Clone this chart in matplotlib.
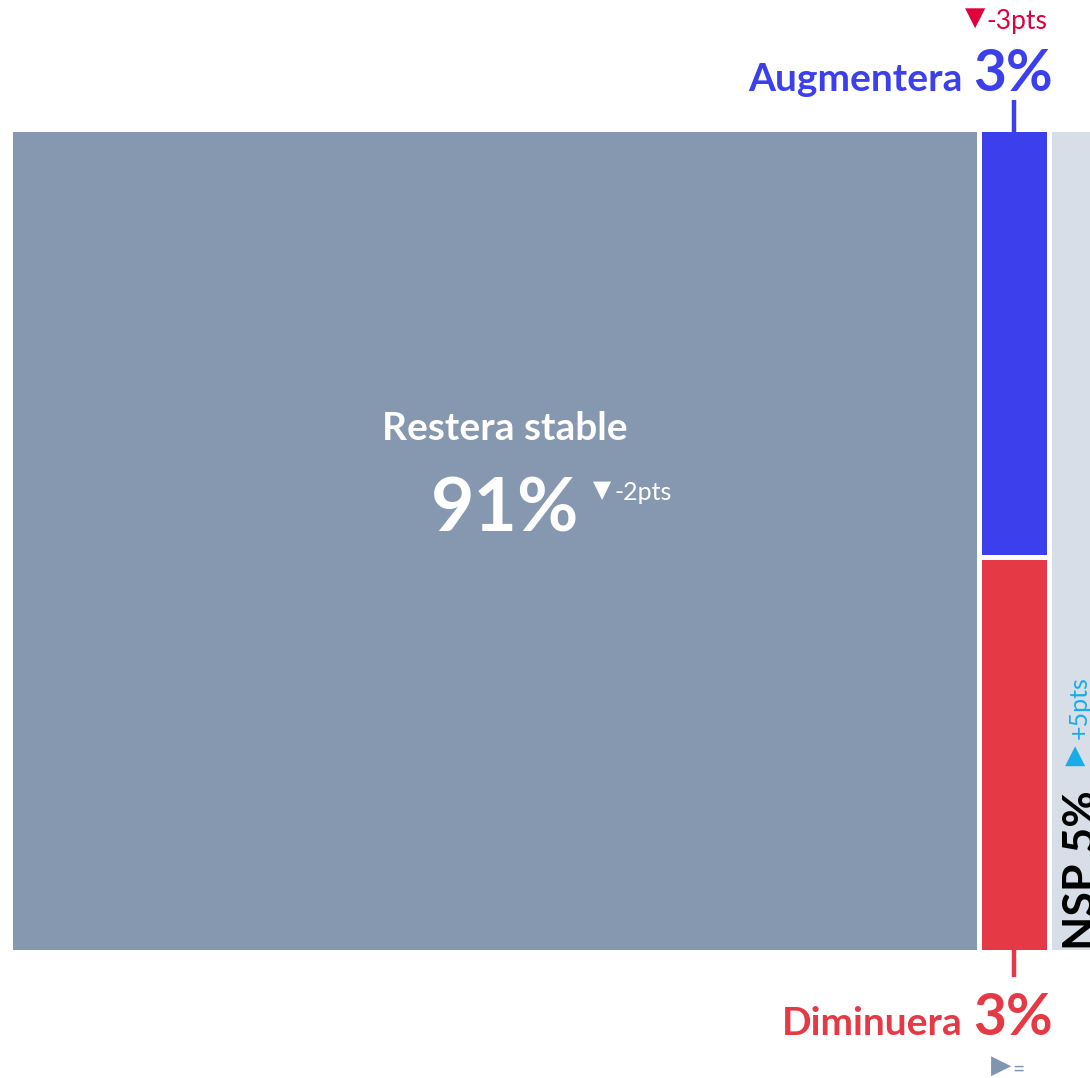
import matplotlib.pyplot as plt
from matplotlib.patches import Rectangle

# data
categories = ["Restera stable", "Augmentera", "Diminuera", "NSP"]
shares = [91, 3.2, 2.95, 5]          # sizes
labels = ["91%", "3%", "3%", "5%"]
deltas = ["-2pts", "-3pts", "=", "+5pts"]
arrows = ["\u25BC", "\u25BC", "\u25B6", "\u25B2"]

colors = ["#8598b0", "#3c3fec", "#e63946", "#d7dee7"]
delta_colors = ["white", "#e0003c", "#8096b0", "#1aace8"]

FONT = ["Lato", "DejaVu Sans"]
SYM = ["DejaVu Sans"]

fig = plt.figure(figsize=(10.9, 10.78), dpi=100)
ax = fig.add_axes([0, 0, 1, 1])
ax.set_xlim(0, 1090)
ax.set_ylim(1078, 0)
ax.axis("off")

# treemap layout: gray | (blue over red) | nsp
left, top, bottom, gap = 13, 132, 950, 5
total = sum(shares)
unit = 1082 / total
w_gray = shares[0] * unit
w_col = (shares[1] + shares[2]) * unit
w_nsp = shares[3] * unit
h = bottom - top

x_col = left + w_gray + gap
x_nsp = x_col + w_col + gap
h_blue = (h - gap) * shares[1] / (shares[1] + shares[2])
h_red = (h - gap) - h_blue

ax.add_patch(Rectangle((left, top), w_gray, h, color=colors[0], lw=0))
ax.add_patch(Rectangle((x_col, top), w_col, h_blue, color=colors[1], lw=0))
ax.add_patch(Rectangle((x_col, top + h_blue + gap), w_col, h_red, color=colors[2], lw=0))
ax.add_patch(Rectangle((x_nsp, top), w_nsp, h, color=colors[3], lw=0))

# big gray label
cx = left + w_gray / 2 + 10
ax.text(cx, 429, categories[0], color="white", fontsize=28, fontweight="bold",
        family=FONT, ha="center", va="center")
ax.text(cx, 532, labels[0], color="white", fontsize=54, fontweight="bold",
        family=FONT, ha="center", va="baseline")
ax.text(602, 490, arrows[0], color=delta_colors[0], fontsize=17, family=SYM,
        ha="center", va="center")
ax.text(615, 500, deltas[0], color=delta_colors[0], fontsize=18, family=FONT,
        ha="left", va="baseline")

# Augmentera (above)
col_cx = x_col + w_col / 2
ax.plot([col_cx, col_cx], [100, top], color=colors[1], lw=3.2, solid_capstyle="butt")
ax.text(1053, 91, labels[1], color=colors[1], fontsize=41, fontweight="bold",
        family=FONT, ha="right", va="baseline")
ax.text(963, 91, categories[1], color=colors[1], fontsize=28, fontweight="bold",
        family=FONT, ha="right", va="baseline")
ax.text(975, 18, arrows[1], color=delta_colors[1], fontsize=19, family=SYM,
        ha="center", va="center")
ax.text(986, 29, deltas[1], color=delta_colors[1], fontsize=19, family=FONT,
        ha="left", va="baseline")

# Diminuera (below)
ax.plot([col_cx, col_cx], [bottom, 977], color=colors[2], lw=3.2, solid_capstyle="butt")
ax.text(1053, 1035, labels[2], color=colors[2], fontsize=41, fontweight="bold",
        family=FONT, ha="right", va="baseline")
ax.text(963, 1035, categories[2], color=colors[2], fontsize=28, fontweight="bold",
        family=FONT, ha="right", va="baseline")
ax.text(1001, 1066, arrows[2], color=delta_colors[2], fontsize=19, family=SYM,
        ha="center", va="center")
ax.text(1012, 1076, deltas[2], color=delta_colors[2], fontsize=15, family=FONT,
        ha="left", va="baseline")

# NSP (rotated)
ax.text(1062, 950, categories[3] + " " + labels[3], color="black", fontsize=32,
        fontweight="bold", family=FONT, rotation=90, ha="left", va="bottom")
ax.text(1075, 756, arrows[3], color=delta_colors[3], fontsize=19, family=SYM,
        ha="center", va="center")
ax.text(1068, 739, deltas[3], color=delta_colors[3], fontsize=18, family=FONT,
        rotation=90, ha="left", va="bottom")

fig.savefig("out.png", dpi=100)
